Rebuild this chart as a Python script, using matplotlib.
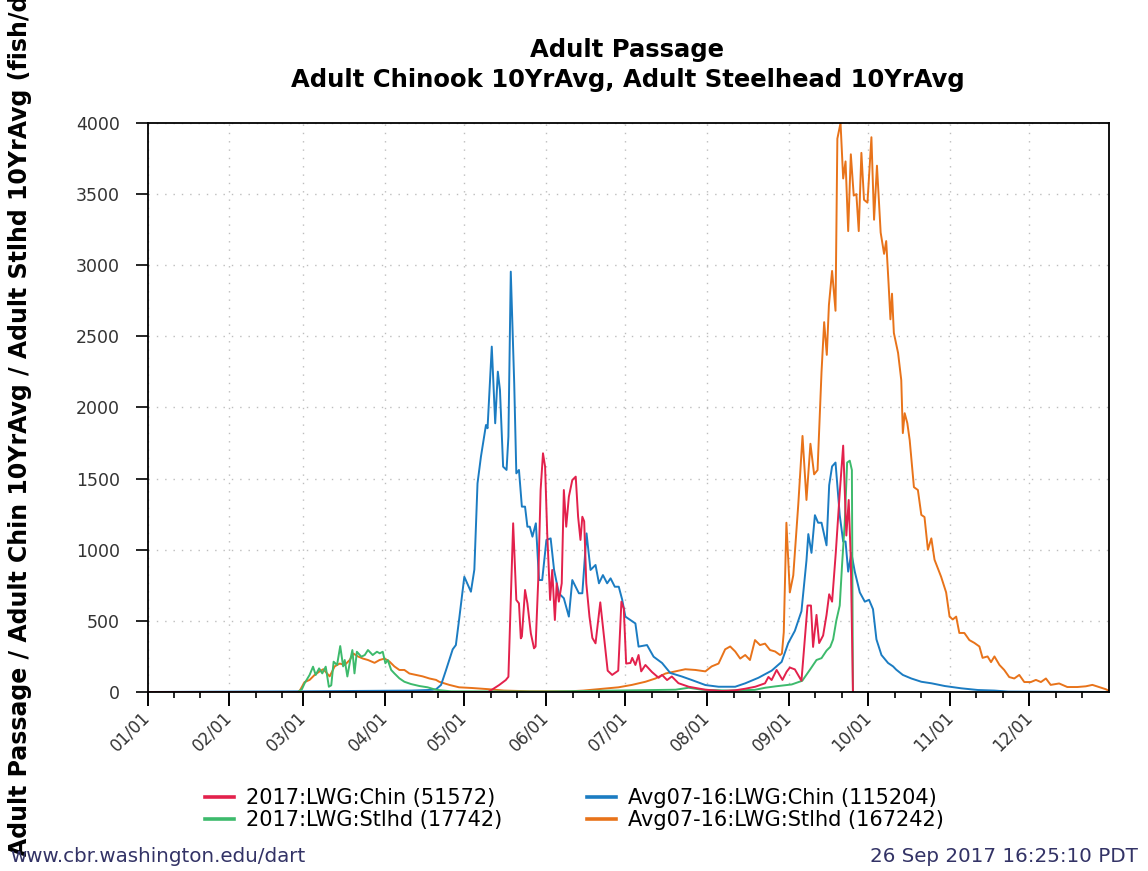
import matplotlib
matplotlib.use('Agg')
import matplotlib.pyplot as plt
from matplotlib.lines import Line2D

# day of year (0 = Jan 1) and fish per day
chin17_day = [0, 129, 130.7, 133.2, 135.7, 136.7, 137.6, 138.5, 139.7, 140.7, 141.4, 141.8, 143, 143.9,
              145.2, 146.4, 147, 148, 148.9, 149.8, 150.6, 151.4, 152.5, 153.3, 154.3, 155, 155.8, 156.9,
              157.7, 158.6, 159.6, 160.9, 162.2, 163.1, 164, 164.7, 165.4, 166.2, 167.4, 168.5, 169.7,
              171.5, 172.5, 174.3, 176, 178.3, 179.5, 180.4, 181.3, 182.9, 183.6, 184.8, 186, 187, 188.6,
              191.1, 193.6, 194.9, 196.8, 198.6, 201.1, 205, 211.3, 217.6, 222.6, 226.4, 230.2, 233.9,
              235.2, 236.4, 238.3, 240.5, 242.1, 243.3, 245.2, 247.7, 250, 251.3, 252.1, 253.4, 254.4,
              255.9, 257.2, 258.2, 259.3, 260.7, 262.2, 263.5, 264.7, 265.6, 266.4, 267.2]
chin17_val = [0, 0, 19, 49, 84, 107, 647, 1186, 647, 623, 377, 390, 717, 623,
              412, 307, 320, 787, 1420, 1678, 1584, 1115, 647, 858, 506, 764, 635, 764,
              1420, 1162, 1373, 1490, 1514, 1232, 1069, 1232, 1200, 764, 530, 380, 342,
              630, 459, 150, 120, 150, 635, 588, 200, 204, 240, 190, 260, 145, 190,
              140, 100, 120, 84, 109, 62, 37, 16, 7, 12, 23, 37, 61,
              106, 84, 155, 85, 143, 172, 159, 79, 608, 608, 317, 542, 344,
              397, 542, 687, 635, 978, 1401, 1732, 1100, 1350, 925, 0]

stlhd17_day = [0, 57, 58.5, 59.5, 61.4, 62.7, 63.7, 65, 66.2, 67.5, 68.7, 69.6, 70.5, 71.8, 73, 74.1,
               74.7, 75.7, 76.8, 77.6, 78.4, 79.3, 81, 82.3, 83.5, 85.3, 86.9, 88, 89.1, 90.1, 91, 92.3,
               93.5, 95.4, 97.3, 99.8, 103, 106.1, 109.3, 115, 150, 200, 205, 210, 220, 230, 234, 238,
               244, 248, 251, 253.4, 255.3, 257.2, 258.6, 259.7, 260.9, 262.2, 263.1, 264.1, 265, 266,
               266.8, 267.2]
stlhd17_val = [0, 0, 20, 61, 120, 178, 120, 166, 131, 178, 37, 47, 213, 190, 323, 180,
               225, 109, 225, 295, 131, 283, 248, 260, 295, 260, 283, 272, 283, 202, 225, 155,
               131, 96, 72, 56, 42, 33, 15, 5, 3, 16, 30, 16, 10, 15, 30, 40,
               53, 79, 159, 225, 238, 291, 317, 370, 502, 608, 899, 1190, 1613, 1626,
               1560, 0]

chinavg_day = [0, 60, 100, 108, 109.3, 111.2, 113, 115.6, 116.8, 118.1, 120, 122.5, 123.8, 125, 126.3,
               128.2, 128.8, 130.4, 131.7, 132.7, 133.5, 134.7, 136, 136.7, 137.6, 138.9, 139.7, 140.7,
               141.8, 143, 143.9, 144.8, 145.8, 147.1, 148.3, 149.5, 151.1, 152.7, 154, 155.8, 157.7,
               159.6, 160.9, 163.4, 164.7, 166.3, 167.8, 169.7, 171, 172.5, 174.1, 175.4, 177, 178.5,
               179.8, 181, 184.8, 186, 189.2, 191.7, 194.9, 198, 202.4, 206.2, 211.3, 216.3, 222.6,
               226.4, 231.4, 236.4, 240.2, 242.7, 245.2, 247.7, 249.6, 250.3, 251.5, 252.8, 254, 255.3,
               257.2, 258.2, 259.3, 260.6, 262.2, 263.5, 264.4, 265.4, 266.6, 267.9, 269.8, 271.7,
               273.3, 274.8, 276.1, 278, 280.5, 282.4, 283.6, 286.1, 289.3, 293.1, 297, 302, 308.2,
               314.5, 320.8, 326, 364]
chinavg_val = [0, 5, 10, 15, 19, 50, 150, 300, 330, 520, 810, 705, 860, 1467, 1655,
               1877, 1854, 2428, 1889, 2252, 2123, 1584, 1561, 1795, 2955, 2170, 1537, 1561,
               1303, 1303, 1162, 1162, 1092, 1186, 787, 787, 1069, 1080, 858, 694, 659,
               530, 787, 694, 694, 1115, 858, 893, 764, 822, 764, 799, 740, 740,
               649, 530, 482, 319, 330, 248, 204, 134, 109, 84, 49, 37, 37,
               61, 100, 150, 212, 344, 430, 568, 925, 1110, 978, 1243, 1190, 1190,
               1031, 1454, 1586, 1613, 1243, 1058, 1058, 846, 978, 846, 700, 635,
               648, 582, 370, 260, 204, 180, 157, 120, 95, 72, 61, 42, 26,
               14, 10, 3, 0]

stlhdavg_day = [0, 57, 57.7, 59.5, 61.4, 63.3, 65.2, 66.6, 69, 70.9, 72.8, 74.7, 76.6, 78, 79.7, 81.6,
                83.5, 86, 87.9, 89.8, 91.6, 93.5, 95.4, 97.3, 99.2, 101.7, 104.2, 106.8, 109.3, 110.5,
                114.3, 118, 123, 129, 135, 145, 160, 165, 171, 178.4, 183.5, 188.6, 192.4, 196.2, 200,
                203.7, 207.5, 211.3, 213.7, 216.3, 218.8, 220.7, 222.6, 224.5, 226.4, 228.2, 230.1, 232,
                233.9, 235.8, 237.7, 239.6, 240.3, 241, 242, 243.3, 244.6, 246.5, 248.1, 249.6, 251.1,
                252.5, 253.8, 255.3, 256.3, 257.3, 258.1, 259.3, 260.6, 261.3, 262.5, 263.5, 264.4,
                265.4, 266.4, 267.5, 268.5, 269.4, 270.4, 271.4, 272.7, 274.2, 275.2, 276.3, 277.7, 279,
                279.8, 280.7, 281.4, 282, 282.7, 284.3, 285.5, 286.1, 286.8, 287.8, 288.7, 290.3, 291.8,
                293.1, 294.3, 295.6, 296.9, 298.1, 300.6, 302.5, 303.8, 305, 306.3, 307.5, 309.4, 311.3,
                313.2, 315.1, 316.3, 318.2, 319.5, 320.8, 322.7, 324.5, 326.4, 328.3, 330.2, 332.1,
                334.6, 336.5, 338.4, 340.3, 342.1, 345.3, 348.4, 352.2, 355.4, 357.9, 360.4, 362.9, 364]
stlhdavg_val = [0, 0, 10, 70, 85, 120, 145, 160, 110, 180, 200, 190, 225, 270, 250, 235,
                225, 205, 225, 235, 215, 180, 155, 155, 130, 120, 110, 95, 85, 72,
                50, 33, 28, 20, 10, 5, 5, 10, 20, 33, 50, 72, 95, 130, 145,
                160, 155, 145, 180, 200, 300, 320, 285, 235, 260, 225, 365, 330,
                340, 295, 285, 260, 270, 420, 1190, 700, 820, 1320, 1800, 1350, 1745,
                1530, 1560, 2250, 2600, 2370, 2720, 2960, 2680, 3890, 4000, 3610, 3730,
                3240, 3780, 3490, 3500, 3240, 3790, 3460, 3440, 3900, 3320, 3700, 3230, 3080,
                3170, 2870, 2620, 2800, 2524, 2383, 2193, 1820, 1960, 1890, 1770, 1440, 1420,
                1245, 1230, 1000, 1080, 930, 810, 700, 530, 510, 530, 415, 415, 365,
                345, 320, 240, 250, 210, 250, 190, 155, 105, 95, 120, 70,
                70, 85, 70, 95, 50, 60, 35, 35, 40, 50, 35, 20, 10]

month_days = [0, 31, 59, 90, 120, 151, 181, 212, 243, 273, 304, 334]
month_labels = ['01/01', '02/01', '03/01', '04/01', '05/01', '06/01',
                '07/01', '08/01', '09/01', '10/01', '11/01', '12/01']
legend_labels = ['2017:LWG:Chin (51572)', '2017:LWG:Stlhd (17742)',
                 'Avg07-16:LWG:Chin (115204)', 'Avg07-16:LWG:Stlhd (167242)']

c_red = '#e3214c'
c_green = '#3dba6c'
c_blue = '#1b7cc2'
c_orange = '#e8731a'

W, H = 1148, 871
fig = plt.figure(figsize=(W / 100, H / 100), dpi=100)
ax = fig.add_axes([147.5 / W, 1 - 692 / H, (1108.5 - 147.5) / W, (692 - 123) / H])

ax.plot(stlhdavg_day, stlhdavg_val, color=c_orange, lw=1.4)
ax.plot(chinavg_day, chinavg_val, color=c_blue, lw=1.4)
ax.plot(stlhd17_day, stlhd17_val, color=c_green, lw=1.4)
ax.plot(chin17_day, chin17_val, color=c_red, lw=1.4)

ax.set_xlim(0, 364)
ax.set_ylim(0, 4000)
ax.set_yticks(range(0, 4001, 500))
ax.set_xticks(month_days)
ax.set_xticklabels(month_labels, rotation=45, ha='right', va='center', rotation_mode='anchor')
ax.set_xticks([d + k for d in month_days for k in (10, 20)], minor=True)

ax.grid(True, which='major', color='#bdbdbd', linestyle=(0, (1, 5)), linewidth=1)
for s in ax.spines.values():
    s.set_linewidth(1.3)
ax.tick_params(axis='y', direction='out', length=9, width=1.2, labelsize=12.5, pad=11,
               labelcolor='#333333')
ax.tick_params(axis='x', which='major', direction='out', length=10, width=1.4, labelsize=12,
               pad=6, labelcolor='#333333')
ax.tick_params(axis='x', which='minor', direction='out', length=4.5, width=1.2)

fig.text(627.5 / W, 1 - 50 / H, 'Adult Passage', ha='center', va='center',
         fontsize=17.5, fontweight='bold')
fig.text(627.5 / W, 1 - 80 / H, 'Adult Chinook 10YrAvg, Adult Steelhead 10YrAvg',
         ha='center', va='center', fontsize=17.5, fontweight='bold')
# the source image crops the top of this label as well
fig.text(20 / W, 1 - 405 / H,
         'Adult Passage / Adult Chin 10YrAvg / Adult Stlhd 10YrAvg (fish/day)',
         rotation=90, ha='center', va='center', fontsize=17, fontweight='bold')

h = [Line2D([], [], color=c, lw=2.6) for c in (c_red, c_green, c_blue, c_orange)]
leg_kw = dict(loc='upper left', frameon=False, fontsize=15, handlelength=1.4,
              handletextpad=0.55, labelspacing=0.1, borderaxespad=0, borderpad=0)
fig.legend(h[:2], legend_labels[:2], bbox_to_anchor=(205 / W, 1 - 788 / H), **leg_kw)
fig.legend(h[2:], legend_labels[2:], bbox_to_anchor=(587 / W, 1 - 788 / H), **leg_kw)

fig.text(10 / W, 1 - 856 / H, 'www.cbr.washington.edu/dart', ha='left', va='center',
         fontsize=14.3, color='#333366')
fig.text(1138 / W, 1 - 856 / H, '26 Sep 2017 16:25:10 PDT', ha='right', va='center',
         fontsize=14.3, color='#333366')

fig.savefig('out.png', dpi=100)
